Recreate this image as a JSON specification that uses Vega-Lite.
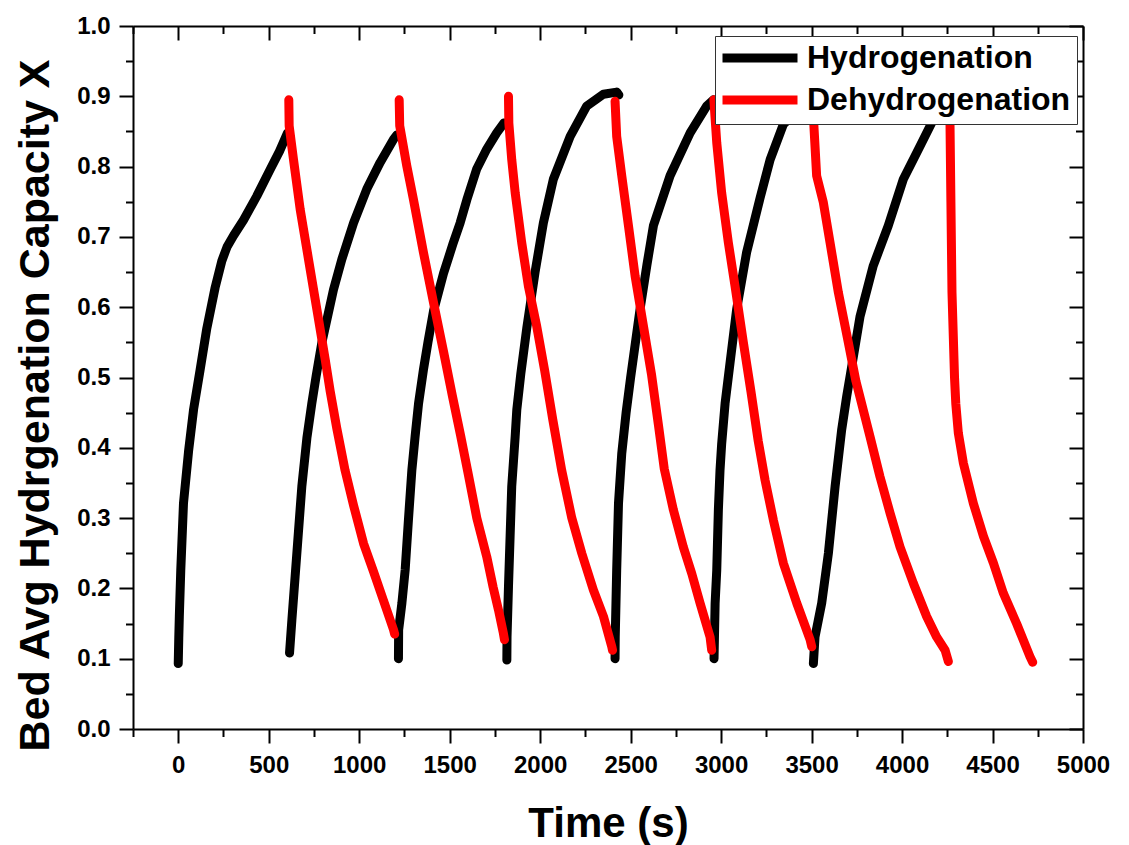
{
"$schema": "https://vega.github.io/schema/vega-lite/v6.json",
"width": 950, "height": 703,
"autosize": "none",
"padding": {"left": 133, "top": 26, "right": 46, "bottom": 116},
"background": "white",
"config": {"view": {"stroke": null}, "font": "Liberation Sans"},
"datasets": {
"H": [
{"cycle":1,"time":0,"X":0.093},{"cycle":1,"time":3,"X":0.13},{"cycle":1,"time":6,"X":0.16},{"cycle":1,"time":14,"X":0.226},{"cycle":1,"time":29,"X":0.321},{"cycle":1,"time":57,"X":0.395},{"cycle":1,"time":85,"X":0.455},{"cycle":1,"time":121,"X":0.511},{"cycle":1,"time":158,"X":0.570},{"cycle":1,"time":204,"X":0.628},{"cycle":1,"time":241,"X":0.666},{"cycle":1,"time":270,"X":0.686},{"cycle":1,"time":306,"X":0.702},{"cycle":1,"time":361,"X":0.724},{"cycle":1,"time":434,"X":0.758},{"cycle":1,"time":508,"X":0.796},{"cycle":1,"time":560,"X":0.822},{"cycle":1,"time":604,"X":0.848},
{"cycle":2,"time":615,"X":0.108},{"cycle":2,"time":628,"X":0.155},{"cycle":2,"time":646,"X":0.217},{"cycle":2,"time":665,"X":0.283},{"cycle":2,"time":683,"X":0.345},{"cycle":2,"time":711,"X":0.414},{"cycle":2,"time":738,"X":0.463},{"cycle":2,"time":762,"X":0.502},{"cycle":2,"time":794,"X":0.550},{"cycle":2,"time":858,"X":0.625},{"cycle":2,"time":904,"X":0.668},{"cycle":2,"time":969,"X":0.720},{"cycle":2,"time":1042,"X":0.768},{"cycle":2,"time":1116,"X":0.806},{"cycle":2,"time":1190,"X":0.839},{"cycle":2,"time":1208,"X":0.845},
{"cycle":3,"time":1217,"X":0.100},{"cycle":3,"time":1218,"X":0.141},{"cycle":3,"time":1236,"X":0.179},{"cycle":3,"time":1254,"X":0.226},{"cycle":3,"time":1272,"X":0.297},{"cycle":3,"time":1291,"X":0.368},{"cycle":3,"time":1309,"X":0.416},{"cycle":3,"time":1328,"X":0.463},{"cycle":3,"time":1355,"X":0.511},{"cycle":3,"time":1380,"X":0.550},{"cycle":3,"time":1411,"X":0.595},{"cycle":3,"time":1466,"X":0.648},{"cycle":3,"time":1518,"X":0.690},{"cycle":3,"time":1558,"X":0.720},{"cycle":3,"time":1595,"X":0.753},{"cycle":3,"time":1650,"X":0.797},{"cycle":3,"time":1705,"X":0.825},{"cycle":3,"time":1760,"X":0.848},{"cycle":3,"time":1800,"X":0.862},
{"cycle":4,"time":1816,"X":0.098},{"cycle":4,"time":1817,"X":0.131},{"cycle":4,"time":1825,"X":0.202},{"cycle":4,"time":1834,"X":0.274},{"cycle":4,"time":1843,"X":0.345},{"cycle":4,"time":1862,"X":0.416},{"cycle":4,"time":1871,"X":0.454},{"cycle":4,"time":1893,"X":0.505},{"cycle":4,"time":1926,"X":0.570},{"cycle":4,"time":1972,"X":0.650},{"cycle":4,"time":2018,"X":0.720},{"cycle":4,"time":2073,"X":0.782},{"cycle":4,"time":2166,"X":0.843},{"cycle":4,"time":2257,"X":0.886},{"cycle":4,"time":2350,"X":0.903},{"cycle":4,"time":2423,"X":0.906},{"cycle":4,"time":2435,"X":0.902},
{"cycle":5,"time":2414,"X":0.100},{"cycle":5,"time":2415,"X":0.131},{"cycle":5,"time":2423,"X":0.226},{"cycle":5,"time":2433,"X":0.321},{"cycle":5,"time":2451,"X":0.392},{"cycle":5,"time":2475,"X":0.450},{"cycle":5,"time":2500,"X":0.500},{"cycle":5,"time":2552,"X":0.597},{"cycle":5,"time":2590,"X":0.660},{"cycle":5,"time":2626,"X":0.716},{"cycle":5,"time":2718,"X":0.787},{"cycle":5,"time":2829,"X":0.848},{"cycle":5,"time":2920,"X":0.886},{"cycle":5,"time":2958,"X":0.895},
{"cycle":6,"time":2961,"X":0.100},{"cycle":6,"time":2967,"X":0.179},{"cycle":6,"time":2976,"X":0.226},{"cycle":6,"time":2985,"X":0.312},{"cycle":6,"time":2994,"X":0.368},{"cycle":6,"time":3003,"X":0.405},{"cycle":6,"time":3022,"X":0.463},{"cycle":6,"time":3050,"X":0.522},{"cycle":6,"time":3086,"X":0.597},{"cycle":6,"time":3141,"X":0.678},{"cycle":6,"time":3215,"X":0.755},{"cycle":6,"time":3271,"X":0.810},{"cycle":6,"time":3344,"X":0.860},{"cycle":6,"time":3420,"X":0.880},{"cycle":6,"time":3500,"X":0.890},
{"cycle":7,"time":3510,"X":0.093},{"cycle":7,"time":3519,"X":0.131},{"cycle":7,"time":3556,"X":0.179},{"cycle":7,"time":3593,"X":0.250},{"cycle":7,"time":3630,"X":0.345},{"cycle":7,"time":3666,"X":0.425},{"cycle":7,"time":3694,"X":0.473},{"cycle":7,"time":3715,"X":0.505},{"cycle":7,"time":3768,"X":0.587},{"cycle":7,"time":3841,"X":0.659},{"cycle":7,"time":3924,"X":0.716},{"cycle":7,"time":4007,"X":0.782},{"cycle":7,"time":4099,"X":0.829},{"cycle":7,"time":4173,"X":0.867},{"cycle":7,"time":4240,"X":0.890}
],
"D": [
{"cycle":1,"time":611,"X":0.895},{"cycle":1,"time":613,"X":0.858},{"cycle":1,"time":637,"X":0.810},{"cycle":1,"time":674,"X":0.739},{"cycle":1,"time":720,"X":0.668},{"cycle":1,"time":766,"X":0.597},{"cycle":1,"time":812,"X":0.526},{"cycle":1,"time":840,"X":0.480},{"cycle":1,"time":876,"X":0.428},{"cycle":1,"time":922,"X":0.368},{"cycle":1,"time":969,"X":0.318},{"cycle":1,"time":1024,"X":0.264},{"cycle":1,"time":1079,"X":0.224},{"cycle":1,"time":1134,"X":0.183},{"cycle":1,"time":1190,"X":0.141},{"cycle":1,"time":1196,"X":0.135},
{"cycle":2,"time":1221,"X":0.895},{"cycle":2,"time":1224,"X":0.858},{"cycle":2,"time":1263,"X":0.801},{"cycle":2,"time":1300,"X":0.753},{"cycle":2,"time":1355,"X":0.678},{"cycle":2,"time":1411,"X":0.606},{"cycle":2,"time":1466,"X":0.537},{"cycle":2,"time":1515,"X":0.474},{"cycle":2,"time":1560,"X":0.418},{"cycle":2,"time":1600,"X":0.366},{"cycle":2,"time":1650,"X":0.300},{"cycle":2,"time":1705,"X":0.245},{"cycle":2,"time":1740,"X":0.202},{"cycle":2,"time":1770,"X":0.169},{"cycle":2,"time":1797,"X":0.136},{"cycle":2,"time":1803,"X":0.127},
{"cycle":3,"time":1825,"X":0.900},{"cycle":3,"time":1827,"X":0.862},{"cycle":3,"time":1843,"X":0.810},{"cycle":3,"time":1862,"X":0.763},{"cycle":3,"time":1898,"X":0.692},{"cycle":3,"time":1935,"X":0.630},{"cycle":3,"time":1981,"X":0.573},{"cycle":3,"time":2025,"X":0.510},{"cycle":3,"time":2070,"X":0.440},{"cycle":3,"time":2119,"X":0.368},{"cycle":3,"time":2175,"X":0.300},{"cycle":3,"time":2230,"X":0.250},{"cycle":3,"time":2294,"X":0.198},{"cycle":3,"time":2350,"X":0.160},{"cycle":3,"time":2396,"X":0.117},{"cycle":3,"time":2400,"X":0.112},
{"cycle":4,"time":2414,"X":0.893},{"cycle":4,"time":2423,"X":0.843},{"cycle":4,"time":2451,"X":0.787},{"cycle":4,"time":2488,"X":0.716},{"cycle":4,"time":2525,"X":0.644},{"cycle":4,"time":2571,"X":0.573},{"cycle":4,"time":2615,"X":0.505},{"cycle":4,"time":2654,"X":0.432},{"cycle":4,"time":2686,"X":0.370},{"cycle":4,"time":2736,"X":0.312},{"cycle":4,"time":2791,"X":0.259},{"cycle":4,"time":2838,"X":0.221},{"cycle":4,"time":2884,"X":0.179},{"cycle":4,"time":2939,"X":0.131},{"cycle":4,"time":2948,"X":0.112},
{"cycle":5,"time":2960,"X":0.895},{"cycle":5,"time":2976,"X":0.834},{"cycle":5,"time":3003,"X":0.763},{"cycle":5,"time":3040,"X":0.692},{"cycle":5,"time":3077,"X":0.630},{"cycle":5,"time":3123,"X":0.550},{"cycle":5,"time":3165,"X":0.480},{"cycle":5,"time":3205,"X":0.410},{"cycle":5,"time":3243,"X":0.354},{"cycle":5,"time":3289,"X":0.297},{"cycle":5,"time":3344,"X":0.236},{"cycle":5,"time":3418,"X":0.179},{"cycle":5,"time":3492,"X":0.127},{"cycle":5,"time":3501,"X":0.117},
{"cycle":6,"time":3510,"X":0.900},{"cycle":6,"time":3512,"X":0.862},{"cycle":6,"time":3528,"X":0.787},{"cycle":6,"time":3565,"X":0.749},{"cycle":6,"time":3602,"X":0.692},{"cycle":6,"time":3648,"X":0.621},{"cycle":6,"time":3703,"X":0.550},{"cycle":6,"time":3745,"X":0.495},{"cycle":6,"time":3823,"X":0.416},{"cycle":6,"time":3878,"X":0.359},{"cycle":6,"time":3934,"X":0.307},{"cycle":6,"time":3989,"X":0.259},{"cycle":6,"time":4063,"X":0.207},{"cycle":6,"time":4136,"X":0.160},{"cycle":6,"time":4191,"X":0.131},{"cycle":6,"time":4238,"X":0.112},{"cycle":6,"time":4256,"X":0.096},
{"cycle":7,"time":4258,"X":0.900},{"cycle":7,"time":4265,"X":0.862},{"cycle":7,"time":4270,"X":0.750},{"cycle":7,"time":4276,"X":0.621},{"cycle":7,"time":4290,"X":0.500},{"cycle":7,"time":4297,"X":0.463},{"cycle":7,"time":4311,"X":0.421},{"cycle":7,"time":4339,"X":0.378},{"cycle":7,"time":4394,"X":0.321},{"cycle":7,"time":4450,"X":0.274},{"cycle":7,"time":4505,"X":0.236},{"cycle":7,"time":4560,"X":0.193},{"cycle":7,"time":4633,"X":0.150},{"cycle":7,"time":4707,"X":0.103},{"cycle":7,"time":4722,"X":0.095}
]
},
"layer": [
{
"data": {"name": "H"},
"transform": [{"calculate": "'Hydrogenation'", "as": "series"}],
"mark": {"type": "line", "strokeWidth": 9, "strokeCap": "round", "strokeJoin": "round"},
"encoding": {
"x": {"field": "time", "type": "quantitative", "scale": {"domain": [-250, 5000], "nice": false, "zero": false},
 "axis": {"orient": "bottom", "values": [-250,0,250,500,750,1000,1250,1500,1750,2000,2250,2500,2750,3000,3250,3500,3750,4000,4250,4500,4750,5000],
  "format": "d", "labelExpr": "datum.value % 500 === 0 ? datum.label : ''",
  "tickSize": {"condition": {"test": "datum.value % 500 === 0", "value": 14}, "value": 7.5},
  "tickWidth": 2, "tickColor": "black", "domainColor": "black", "domainWidth": 2, "grid": false,
  "labelFont": "Liberation Sans", "labelFontWeight": "bold", "labelFontSize": 24, "labelColor": "black", "labelPadding": 10, "labelFlush": false, "labelOverlap": false,
  "title": "Time (s)", "titleFont": "Liberation Sans", "titleFontWeight": "bold", "titleFontSize": 42, "titleColor": "black", "titleBaseline": "alphabetic", "titleY": 107}},
"y": {"field": "X", "type": "quantitative", "scale": {"domain": [0, 1], "nice": false, "zero": false},
 "axis": {"orient": "left", "values": [0,0.05,0.1,0.15,0.2,0.25,0.3,0.35,0.4,0.45,0.5,0.55,0.6,0.65,0.7,0.75,0.8,0.85,0.9,0.95,1],
  "format": ".1f", "labelExpr": "round(datum.value*100) % 10 === 0 ? datum.label : ''",
  "tickSize": {"condition": {"test": "round(datum.value*100) % 10 === 0", "value": 14}, "value": 7.5},
  "tickWidth": 2, "tickColor": "black", "domainColor": "black", "domainWidth": 2, "grid": false,
  "labelFont": "Liberation Sans", "labelFontWeight": "bold", "labelFontSize": 24, "labelColor": "black", "labelPadding": 9, "labelFlush": false, "labelOverlap": false,
  "title": "Bed Avg Hydrgenation Capacity X", "titleFont": "Liberation Sans", "titleFontWeight": "bold", "titleFontSize": 43, "titleColor": "black", "titleAngle": 270, "titleBaseline": "alphabetic", "titleX": -85, "titleY": 379}},
"color": {"field": "series", "type": "nominal", "scale": {"domain": ["Hydrogenation", "Dehydrogenation"], "range": ["#000000", "#ff0000"]},
 "legend": {"orient": "none", "legendX": 582, "legendY": 10, "title": null, "symbolType": "M-5,0H5", "symbolSize": 225, "symbolStrokeWidth": 9, "symbolOffset": 23, "labelOffset": 31, "labelFont": "Liberation Sans", "labelFontWeight": "bold", "labelFontSize": 32, "labelColor": "black", "labelLimit": 500, "padding": 6, "rowPadding": 6, "strokeColor": "#333333", "fillColor": "white"}},
"detail": {"field": "cycle"}
}
},
{
"data": {"name": "D"},
"transform": [{"calculate": "'Dehydrogenation'", "as": "series"}],
"mark": {"type": "line", "strokeWidth": 9, "strokeCap": "round", "strokeJoin": "round"},
"encoding": {
"x": {"field": "time", "type": "quantitative", "scale": {"domain": [-250, 5000], "nice": false, "zero": false},
 "axis": {"orient": "top", "values": [-250,0,250,500,750,1000,1250,1500,1750,2000,2250,2500,2750,3000,3250,3500,3750,4000,4250,4500,4750,5000],
  "labels": false, "title": null,
  "tickSize": {"condition": {"test": "datum.value % 500 === 0", "value": -14}, "value": -7.5},
  "tickWidth": 2, "tickColor": "black", "domainColor": "black", "domainWidth": 2, "grid": false}},
"y": {"field": "X", "type": "quantitative", "scale": {"domain": [0, 1], "nice": false, "zero": false},
 "axis": {"orient": "right", "values": [0,0.05,0.1,0.15,0.2,0.25,0.3,0.35,0.4,0.45,0.5,0.55,0.6,0.65,0.7,0.75,0.8,0.85,0.9,0.95,1],
  "labels": false, "title": null,
  "tickSize": {"condition": {"test": "round(datum.value*100) % 10 === 0", "value": -14}, "value": -7.5},
  "tickWidth": 2, "tickColor": "black", "domainColor": "black", "domainWidth": 2, "grid": false}},
"color": {"field": "series", "type": "nominal", "scale": {"domain": ["Hydrogenation", "Dehydrogenation"], "range": ["#000000", "#ff0000"]},
 "legend": {"orient": "none", "legendX": 582, "legendY": 10, "title": null, "symbolType": "M-5,0H5", "symbolSize": 225, "symbolStrokeWidth": 9, "symbolOffset": 23, "labelOffset": 31, "labelFont": "Liberation Sans", "labelFontWeight": "bold", "labelFontSize": 32, "labelColor": "black", "labelLimit": 500, "padding": 6, "rowPadding": 6, "strokeColor": "#333333", "fillColor": "white"}},
"detail": {"field": "cycle"}
}
}
],
"resolve": {"axis": {"x": "independent", "y": "independent"}}
}
